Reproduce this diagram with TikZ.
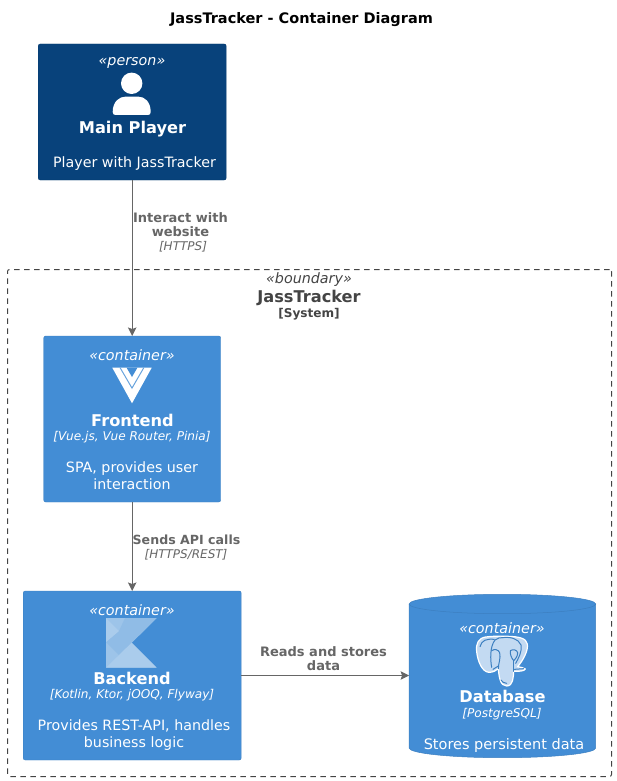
\documentclass[tikz,border=0pt]{standalone}
\usepackage{fontspec}
\setmainfont{DejaVu Sans}
\usetikzlibrary{arrows.meta}
\definecolor{xperson}{HTML}{08427B}
\definecolor{xpersonline}{HTML}{073B6F}
\definecolor{xcontainer}{HTML}{438DD5}
\definecolor{xcontainerline}{HTML}{3C7FC0}
\definecolor{xrel}{HTML}{666666}
\definecolor{xbound}{HTML}{444444}
\definecolor{xelephant}{HTML}{C3DAF2}
\tikzset{
	box/.style = {draw=#1, rounded corners=2pt, inner sep=0pt, outer sep=0pt},
	rel/.style = {draw=xrel, line width=1pt, -{Stealth[length=8.5pt, width=8.5pt, inset=1.5pt]}},
	stereo/.style = {font=\fontsize{14.3}{16}\selectfont\itshape, text=white, inner sep=0pt},
	title/.style = {font=\fontsize{16.2}{18}\selectfont\bfseries, text=white, inner sep=0pt},
	tech/.style = {font=\fontsize{12.1}{14}\selectfont\itshape, text=white, inner sep=0pt},
	descr/.style = {font=\fontsize{14.25}{17}\selectfont, text=white, align=center, inner sep=0pt},
	rellabel/.style = {font=\fontsize{13}{14}\selectfont\bfseries, text=xrel, align=center, inner sep=0pt},
	reltech/.style = {font=\fontsize{12}{14}\selectfont\itshape, text=xrel, inner sep=0pt},
	trace/.style = {draw=xcontainerline, line width=1pt, line cap=round},
}
\begin{document}
\begin{tikzpicture}[x=1pt, y=-1pt]
	\useasboundingbox (0,0) rectangle (616,781);
	% boundary
	\node[draw=xbound, line width=1pt, dash pattern=on 5.5pt off 4.5pt, rounded corners=2pt, minimum width=604pt, minimum height=507pt, inner sep=0pt] (boundary) at (309.5,523) {};
	\node[font=\fontsize{14.3}{16}\selectfont\itshape, text=xbound, inner sep=0pt] (boundstereo) at (309,280) {«boundary»};
	\node[font=\fontsize{16.2}{18}\selectfont\bfseries, text=xbound, inner sep=0pt] (boundname) at (309,297.5) {JassTracker};
	\node[font=\fontsize{12.1}{14}\selectfont\bfseries, text=xbound, inner sep=0pt] (boundtype) at (309,314) {[System]};
	% title
	\node[font=\fontsize{14.5}{16}\selectfont\bfseries, inner sep=0pt] (diagramtitle) at (301.5,20) {JassTracker - Container Diagram};
	% boxes
	\node[box=xpersonline, fill=xperson, minimum width=188pt, minimum height=136pt] (player) at (132.2,112) {};
	\node[box=xcontainerline, fill=xcontainer, minimum width=177pt, minimum height=166pt] (frontend) at (132.2,419) {};
	\node[box=xcontainerline, fill=xcontainer, minimum width=218pt, minimum height=169pt] (backend) at (132.2,675.5) {};
	\node[minimum width=186.6pt, minimum height=163pt, inner sep=0pt, outer sep=0pt] (database) at (502.4,675.5) {};
	\filldraw[fill=xcontainer, draw=xcontainerline, line width=0.5pt] (409.1,604) -- (409.1,748) arc[x radius=93.3, y radius=9.7, start angle=180, end angle=0] -- (595.7,604) -- cycle;
	\filldraw[fill=xcontainer, draw=xcontainerline, line width=0.5pt] (502.4,604) ellipse [x radius=93.3, y radius=9.7];
	% person
	\node[stereo] (playerstereo) at (132,63) {«person»};
	\fill[white] (131.7,83.3) circle (10.7pt);
	\fill[white] (112.7,112) .. controls (112.7,101) and (120,96.7) .. (125,96.7) -- (138.5,96.7) .. controls (144,96.7) and (150.7,101) .. (150.7,112) .. controls (150.7,114) and (149.7,115) .. (148,115) -- (115.5,115) .. controls (113.7,115) and (112.7,114) .. (112.7,112) -- cycle;
	\node[title] (playername) at (132.5,129) {Main Player};
	\node[descr] (playerdescr) at (134.5,163.5) {Player with JassTracker};
	% frontend
	\node[stereo] (frontendstereo) at (132,355) {«container»};
	\fill[white] (112.3,367.7) -- (151.7,367.7) -- (132,403.3) -- cycle;
	\draw[xcontainer!80!white, line width=1pt] (120.1,367.7) -- (132,388.1) -- (143.8,367.7);
	\fill[xcontainer] (126.6,367.7) -- (137.4,367.7) -- (132,377) -- cycle;
	\node[title] (frontendname) at (132.5,420) {Frontend};
	\node[tech] (frontendtech) at (132,437) {[Vue.js, Vue Router, Pinia]};
	\node[descr] (frontenddescr) at (132,476) {SPA, provides user\\interaction};
	% backend
	\node[stereo] (backendstereo) at (132,610) {«container»};
	\fill[xcontainer!52!white] (106,618) -- (156.7,618) -- (131.7,642.7) -- (156.7,667.7) -- (106,667.7) -- cycle;
	\fill[xcontainer!59!white] (125,618) -- (156.7,618) -- (131.7,642.7) -- (119,655) -- (106,642) -- (119,631) -- cycle;
	\fill[xcontainer!45!white] (106,618) -- (119,631) -- (106,642) -- cycle;
	\fill[xcontainer!45!white] (106,667.7) -- (131.7,642.7) -- (156.7,667.7) -- cycle;
	\node[title] (backendname) at (132,678) {Backend};
	\node[tech] (backendtech) at (132,695) {[Kotlin, Ktor, jOOQ, Flyway]};
	\node[descr] (backenddescr) at (134,735) {Provides REST-API, handles\\business logic};
	% database
	\node[stereo] (databasestereo) at (502,628) {«container»};
	\begin{scope}[shift={(465,630)}, scale=1/3]
		\filldraw[fill=xelephant, draw=white, line width=1.2pt, line join=round] (62,21) .. controls (40,24) and (32,42) .. (35,65) .. controls (38,95) and (52,126) .. (72,127) .. controls (85,127) and (92,122) .. (100,116) .. controls (102,140) and (105,168) .. (125,168) .. controls (145,168) and (145,140) .. (146,124) .. controls (160,124) and (178,124) .. (181,117) .. controls (176,112) and (165,112) .. (158,110) .. controls (175,90) and (190,62) .. (187,42) .. controls (184,24) and (160,20) .. (130,19) .. controls (110,18) and (85,18) .. (62,21) -- cycle;
		\draw[trace] (80,112) .. controls (76,90) and (74,50) .. (90,30) .. controls (98,24) and (106,22) .. (112,23);
		\draw[trace] (45,50) .. controls (50,30) and (65,26) .. (88,28);
		\draw[trace] (112,23) .. controls (135,20) and (160,25) .. (168,45) .. controls (172,65) and (160,85) .. (152,100);
		\draw[trace] (80,62) .. controls (88,56) and (100,58) .. (104,68) .. controls (108,85) and (100,100) .. (100,116);
		\draw[trace] (136,62) .. controls (144,56) and (156,60) .. (158,68) .. controls (158,80) and (150,88) .. (146,92) .. controls (140,85) and (134,72) .. (136,62);
		\draw[trace] (146,92) -- (146,124);
		\draw[trace] (108,150) .. controls (110,155) and (118,160) .. (125,160);
		\draw[trace] (84,118) -- (100,108);
		\draw[trace] (148,118) -- (176,116);
	\end{scope}
	\node[title] (databasename) at (502.5,696.5) {Database};
	\node[tech] (databasetech) at (502,714.5) {[PostgreSQL]};
	\node[descr, font=\fontsize{14.5}{17}\selectfont] (databasedescr) at (504,745.5) {Stores persistent data};
	% connectors
	\draw[rel] (player.south) -- (frontend.north);
	\draw[rel] (frontend.south) -- (backend.north);
	\draw[rel] (backend.east) -- (database.west);
	% labels
	\node[rellabel] (interact) at (180.5,225) {Interact with\\website};
	\node[reltech] (interacttech) at (183,246.5) {[HTTPS]};
	\node[rellabel, font=\fontsize{12.6}{14}\selectfont\bfseries] (sends) at (186.5,540) {Sends API calls};
	\node[reltech] (sendstech) at (186,554.5) {[HTTPS/REST]};
	\node[rellabel] (reads) at (323.5,659) {Reads and stores\\data};
\end{tikzpicture}
\end{document}
